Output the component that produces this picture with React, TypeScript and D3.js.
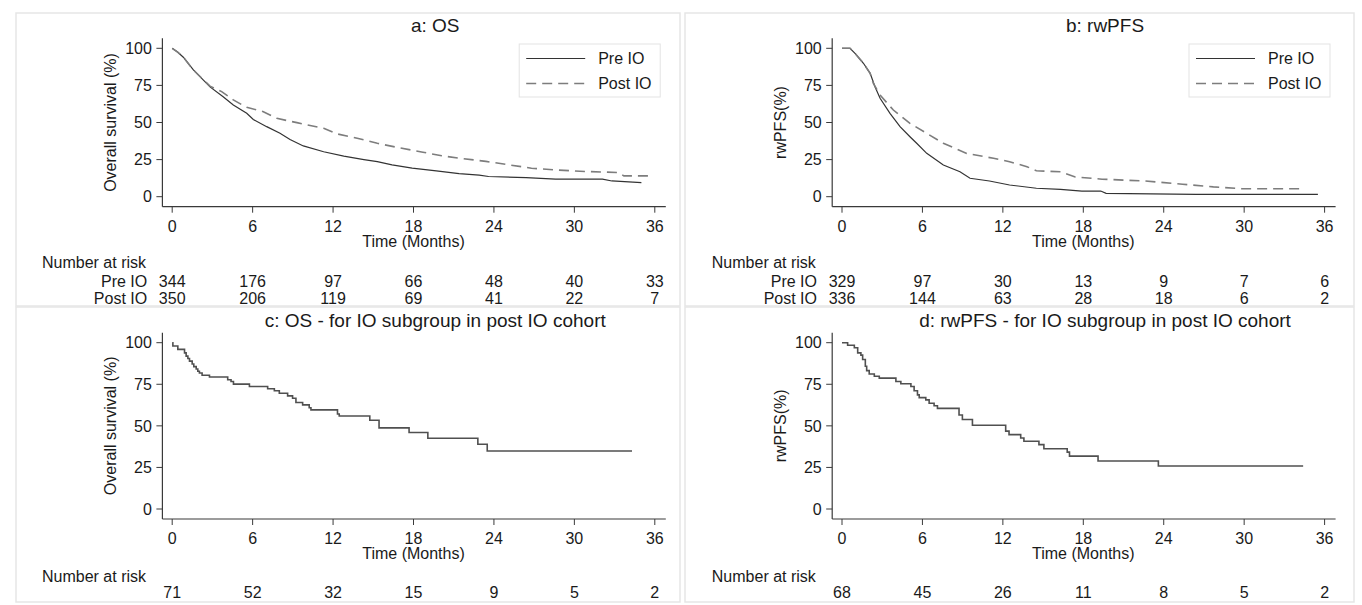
import React from 'react';
import * as d3 from 'd3';

type Pt = [number, number];

// axis ticks
const monthTicks = [0, 6, 12, 18, 24, 30, 36];
const pctTicks = [0, 25, 50, 75, 100];
const groups = ['Pre IO', 'Post IO'];

// a: OS  (months, % surviving)
const osPre: Pt[] = [
  [0, 100], [0.4, 97.5], [0.83, 94], [1.58, 85.4], [2.82, 74], [3.8, 67.4], [4.56, 61.8], [5.56, 56.2],
  [6.05, 52], [7.05, 47.2], [8.04, 42.7], [8.79, 38.5], [9.78, 34.2], [11.3, 30.3], [12.8, 27.4],
  [14.3, 25], [15.3, 23.6], [16.4, 21.5], [17.9, 19.2], [19.7, 17.4], [21.4, 15.6], [22.9, 14.5],
  [23.6, 13.6], [26.4, 12.9], [28.6, 11.8], [32.1, 11.8], [32.8, 10.6], [35.0, 9.5],
];
const osPost: Pt[] = [
  [0, 100], [0.4, 97.5], [0.83, 94], [1.58, 85.4], [2.82, 74.5], [3.69, 70.8], [4.56, 65.2], [5.56, 60.2],
  [6.8, 57.3], [7.8, 52.8], [9.3, 49.9], [11.3, 46.1], [12.3, 42.3], [13.8, 39.4], [15.3, 36],
  [16.9, 33], [18.7, 30], [20.1, 27.6], [21.4, 26], [23.4, 23.8], [25.1, 21.5], [26.8, 19.2],
  [28.8, 17.9], [30.8, 17], [33.3, 16.3], [33.7, 14], [35.5, 14],
];

// b: rwPFS
const pfsPre: Pt[] = [
  [0, 100], [0.6, 100], [0.97, 96.6], [1.6, 89.9], [2.1, 83.1], [2.46, 74.1], [2.84, 66.3], [3.58, 56.2],
  [4.33, 47.2], [5.07, 40.4], [5.57, 36], [6.32, 29.2], [7.56, 21.4], [8.8, 16.8], [9.55, 12.4],
  [11.0, 10.6], [12.5, 7.9], [14.5, 5.7], [16.3, 5.0], [17.9, 3.8], [19.3, 3.8], [19.7, 2.3],
  [26.4, 1.6], [35.5, 1.6],
];
const pfsPost: Pt[] = [
  [0, 100], [0.6, 100], [0.97, 96.6], [1.6, 89.9], [2.1, 83.1], [2.34, 76.4], [2.84, 68.5], [3.83, 58.4],
  [5.07, 49.4], [6.32, 42.7], [7.56, 36], [9.3, 29.2], [11.3, 25.9], [12.5, 23.6], [13.8, 20.2],
  [14.5, 17.5], [16.3, 16.8], [17.4, 13.3], [19.4, 11.8], [22.6, 10.6], [25.4, 8.4], [27.7, 6.6],
  [29.8, 5.4], [34.3, 5.4],
];

// c: OS, IO subgroup (step function)
const osSub: Pt[] = [
  [0, 100], [0.05, 98], [0.42, 96], [0.92, 93.9], [1.04, 91.9], [1.17, 90.5], [1.29, 88.9], [1.49, 87.2],
  [1.61, 85.6], [1.79, 84.2], [1.91, 82.8], [2.03, 81.8], [2.23, 80.4], [2.78, 79.4], [4.14, 77.7],
  [4.39, 76.7], [4.57, 75.1], [5.76, 73.7], [7.12, 72.3], [7.62, 71.1], [7.99, 69.6], [8.61, 68],
  [8.98, 66.6], [9.23, 64], [9.73, 62.6], [10.22, 60.9], [10.35, 59.6], [12.33, 57.1], [12.46, 55.9],
  [14.74, 53.4], [15.43, 48.8], [17.67, 46], [19.07, 42.5], [22.8, 38.9], [23.5, 34.9], [34.3, 34.9],
];

// d: rwPFS, IO subgroup (step function)
const pfsSub: Pt[] = [
  [0, 100], [0.42, 98.5], [0.92, 97], [1.17, 93.9], [1.41, 92.5], [1.54, 89.9], [1.74, 85.8], [1.84, 83.2],
  [2.03, 81.2], [2.41, 79.8], [2.78, 78.7], [4.02, 76.7], [4.39, 75.3], [5.14, 73.7], [5.38, 71.1],
  [5.63, 68.6], [5.76, 67], [6.25, 65.6], [6.5, 63.6], [6.87, 62.1], [7.12, 60.5], [8.73, 56.5],
  [8.98, 53.8], [9.73, 50.4], [12.21, 46.8], [12.46, 44.7], [13.33, 42.7], [13.57, 40.7], [14.69, 38.7],
  [15.06, 36.2], [16.8, 34.2], [16.97, 31.8], [19.1, 28.9], [23.6, 25.9], [34.4, 25.9],
];

// number at risk
const riskOsPre = [344, 176, 97, 66, 48, 40, 33];
const riskOsPost = [350, 206, 119, 69, 41, 22, 7];
const riskPfsPre = [329, 97, 30, 13, 9, 7, 6];
const riskPfsPost = [336, 144, 63, 28, 18, 6, 2];
const riskOsSub = [71, 52, 32, 15, 9, 5, 2];
const riskPfsSub = [68, 45, 26, 11, 8, 5, 2];

const FONT = '"Liberation Sans", Arial, Helvetica, sans-serif';
const INK = '#1a1a1a';
const AXIS = '#3a3a3a';

type Curve = { data: Pt[]; dashed?: boolean; step?: boolean };
type Risk = { label?: string; values: number[] };

const Panel = ({ col, row, title, yLabel, curves, legend, risk }: {
  col: number; row: number; title: string; yLabel: string; curves: Curve[]; legend?: boolean; risk: Risk[];
}) => {
  const x0 = col === 0 ? 172.2 : 842;
  const x = d3.scaleLinear().domain([0, 36]).range([x0, x0 + 482.6]);
  const top = row === 0;
  const y = d3.scaleLinear().domain([0, 100]).range(top ? [196.7, 48.3] : [509, 342.7]);
  const axX = x0 - 9.8;
  const axY = y(0) + 10;
  const titleY = top ? 31.5 : 326.7;
  const narY = top ? 268 : 581.7;
  const rowYs = top ? [286.7, 304] : [598.3];
  const frame = col === 0 ? [16, 680] : [685, 1354];
  const frameY = top ? [13, 306] : [307, 602];

  return (
    <g fontFamily={FONT} fill={INK}>
      <rect x={frame[0]} y={frameY[0]} width={frame[1] - frame[0]} height={frameY[1] - frameY[0]}
        fill="#fff" stroke="#e6e6e6" strokeWidth={1.5} />
      <text x={x0 + 263} y={titleY} fontSize={19} textAnchor="middle">{title}</text>

      {/* y axis */}
      <line x1={axX} x2={axX} y1={y(100) - 10} y2={axY} stroke={AXIS} strokeWidth={1.2} />
      {pctTicks.map(t => (
        <g key={t}>
          <line x1={axX - 6} x2={axX} y1={y(t)} y2={y(t)} stroke={AXIS} />
          <text x={axX - 10.5} y={y(t)} dy="0.36em" fontSize={16} textAnchor="end">{t}</text>
        </g>
      ))}
      <text transform={`translate(${x0 - 56},${(y(0) + y(100)) / 2}) rotate(-90)`} fontSize={16}
        textAnchor="middle">{yLabel}</text>

      {/* x axis */}
      <line x1={axX} x2={x(36) + 11} y1={axY} y2={axY} stroke={AXIS} strokeWidth={1.2} />
      {monthTicks.map(t => (
        <g key={t}>
          <line x1={x(t)} x2={x(t)} y1={axY} y2={axY + 6} stroke={AXIS} />
          <text x={x(t)} y={axY + 24.8} fontSize={16} textAnchor="middle">{t}</text>
        </g>
      ))}
      <text x={x(18)} y={axY + 40} fontSize={16} textAnchor="middle">Time (Months)</text>

      {/* curves */}
      {curves.map((c, i) => {
        const line = d3.line<Pt>().x(d => x(d[0])).y(d => y(d[1]))
          .curve(c.step ? d3.curveStepAfter : d3.curveLinear);
        return (
          <path key={i} d={line(c.data) || ''} fill="none"
            stroke={c.dashed ? '#7d7d7d' : c.step ? '#505050' : '#333'}
            strokeWidth={c.dashed ? 1.6 : c.step ? 1.6 : 1.2}
            strokeDasharray={c.dashed ? '10,6' : undefined} />
        );
      })}

      {legend && (
        <g>
          <rect x={x0 + 347} y={44} width={141} height={53} fill="#fff" stroke="#e3e3e3" />
          {groups.map((g, i) => (
            <g key={g}>
              <line x1={x0 + 354} x2={x0 + 413} y1={58.5 + i * 25} y2={58.5 + i * 25}
                stroke={i ? '#7d7d7d' : '#333'} strokeWidth={i ? 1.6 : 1.2}
                strokeDasharray={i ? '10,6' : undefined} />
              <text x={x0 + 426} y={58.5 + i * 25} dy="0.36em" fontSize={16}>{g}</text>
            </g>
          ))}
        </g>
      )}

      {/* number at risk */}
      <text x={x0 - 130.2} y={narY} fontSize={16}>Number at risk</text>
      {risk.map((r, i) => (
        <g key={i}>
          {r.label && <text x={x0 - 25} y={rowYs[i]} fontSize={16} textAnchor="end">{r.label}</text>}
          {r.values.map((v, j) => (
            <text key={j} x={x(monthTicks[j])} y={rowYs[i]} fontSize={16} textAnchor="middle">{v}</text>
          ))}
        </g>
      ))}
    </g>
  );
};

export default function App() {
  return (
    <svg width={1362} height={605} style={{ position: 'absolute', left: 0, top: 0, background: '#fff' }}>
      <rect width={1362} height={605} fill="#fff" />
      <Panel col={0} row={0} title="a: OS" yLabel="Overall survival (%)" legend
        curves={[{ data: osPre }, { data: osPost, dashed: true }]}
        risk={[{ label: groups[0], values: riskOsPre }, { label: groups[1], values: riskOsPost }]} />
      <Panel col={1} row={0} title="b: rwPFS" yLabel="rwPFS(%)" legend
        curves={[{ data: pfsPre }, { data: pfsPost, dashed: true }]}
        risk={[{ label: groups[0], values: riskPfsPre }, { label: groups[1], values: riskPfsPost }]} />
      <Panel col={0} row={1} title="c: OS - for IO subgroup in post IO cohort" yLabel="Overall survival (%)"
        curves={[{ data: osSub, step: true }]} risk={[{ values: riskOsSub }]} />
      <Panel col={1} row={1} title="d: rwPFS - for IO subgroup in post IO cohort" yLabel="rwPFS(%)"
        curves={[{ data: pfsSub, step: true }]} risk={[{ values: riskPfsSub }]} />
    </svg>
  );
}
